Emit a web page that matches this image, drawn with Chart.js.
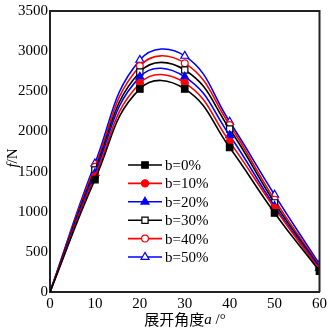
<!DOCTYPE html>
<html><head><meta charset="utf-8">
<script src="https://cdn.jsdelivr.net/npm/chart.js@4/dist/chart.umd.min.js"></script>
<style>html,body{margin:0;padding:0;background:#fff}#wrap{width:330px;height:329px}</style>
</head><body><div id="wrap"><canvas id="c" width="330" height="329"></canvas></div>
<script>
// Data
const angles = [0, 10, 20, 30, 40, 50, 60];
const seriesNames = ['b=0%', 'b=10%', 'b=20%', 'b=30%', 'b=40%', 'b=50%'];
const b0  = [0, 1400, 2530, 2530, 1800, 985, 260];
const b10 = [0, 1440, 2600, 2605, 1870, 1045, 280];
const b20 = [0, 1480, 2680, 2680, 1950, 1070, 300];
const b30 = [0, 1520, 2740, 2765, 2030, 1110, 310];
const b40 = [0, 1560, 2815, 2850, 2080, 1150, 325];
const b50 = [0, 1600, 2890, 2940, 2120, 1210, 345];
const xTickValues = [0, 10, 20, 30, 40, 50, 60];
const yTickValues = [0, 500, 1000, 1500, 2000, 2500, 3000, 3500];
const xTitle = '展开角度';
const yTitle = 'f';

const allSeries = [b0, b10, b20, b30, b40, b50];
const styles = [
  {color:'#000000', shape:'rect', fill:true, r:4.6},
  {color:'#ff0000', shape:'circle', fill:true, r:3.6},
  {color:'#0000ff', shape:'triangle', fill:true, r:4.6},
  {color:'#000000', shape:'rect', fill:false, r:4.4},
  {color:'#ff0000', shape:'circle', fill:false, r:3.4},
  {color:'#0000ff', shape:'triangle', fill:false, r:4.6}
];

const datasets = allSeries.map((vals, i) => {
  const s = styles[i];
  return {
    label: seriesNames[i],
    data: angles.map((a, j) => ({x: a, y: vals[j]})),
    borderColor: s.color,
    borderWidth: 1.6,
    backgroundColor: s.fill ? s.color : '#ffffff',
    pointBackgroundColor: s.fill ? s.color : '#ffffff',
    pointBorderColor: s.color,
    pointBorderWidth: 1.2,
    pointStyle: s.shape,
    pointRadius: angles.map(a => a === 0 ? 0 : s.r),
    tension: 0.45,
    fill: false
  };
});

function drawMarker(ctx, s, x, y) {
  ctx.save();
  ctx.lineWidth = 1.2;
  ctx.strokeStyle = s.color;
  ctx.fillStyle = s.fill ? s.color : '#ffffff';
  ctx.beginPath();
  const r = s.r;
  if (s.shape === 'rect') {
    const h = Math.SQRT1_2 * r;
    ctx.rect(x - h, y - h, 2 * h, 2 * h);
  } else if (s.shape === 'circle') {
    ctx.arc(x, y, r, 0, Math.PI * 2);
  } else {
    ctx.moveTo(x, y - r);
    ctx.lineTo(x + r * Math.sin(Math.PI * 2 / 3), y - r * Math.cos(Math.PI * 2 / 3));
    ctx.lineTo(x - r * Math.sin(Math.PI * 2 / 3), y - r * Math.cos(Math.PI * 2 / 3));
    ctx.closePath();
  }
  ctx.fill();
  ctx.stroke();
  ctx.restore();
}

const decor = {
  id: 'decor',
  afterDraw(chart) {
    const ctx = chart.ctx;
    const ca = chart.chartArea;
    ctx.save();
    // frame top & right
    ctx.strokeStyle = '#222';
    ctx.lineWidth = 2;
    ctx.beginPath();
    ctx.moveTo(ca.left, ca.top);
    ctx.lineTo(ca.right, ca.top);
    ctx.lineTo(ca.right, ca.bottom);
    ctx.stroke();
    // legend
    ctx.font = '15px "Liberation Serif"';
    ctx.textBaseline = 'middle';
    ctx.textAlign = 'left';
    for (let i = 0; i < seriesNames.length; i++) {
      const y = 165 + i * 18.4;
      const s = styles[i];
      ctx.strokeStyle = s.color;
      ctx.lineWidth = 1.6;
      ctx.beginPath();
      ctx.moveTo(128, y);
      ctx.lineTo(162, y);
      ctx.stroke();
      drawMarker(ctx, s, 145, y);
      ctx.fillStyle = '#000';
      ctx.fillText(seriesNames[i], 165, y + 1);
    }
    // x title
    ctx.fillStyle = '#000';
    ctx.textBaseline = 'middle';
    ctx.font = '15px "Noto Sans CJK SC"';
    const w1 = ctx.measureText(xTitle).width;
    ctx.font = 'italic 15px "Liberation Serif"';
    const w2 = ctx.measureText('a').width;
    ctx.font = '15px "Liberation Serif"';
    const w3 = ctx.measureText(' /°').width;
    let x0 = 185 - (w1 + w2 + w3) / 2;
    ctx.font = '15px "Noto Sans CJK SC"';
    ctx.fillText(xTitle, x0, 319);
    ctx.font = 'italic 15px "Liberation Serif"';
    ctx.fillText('a', x0 + w1, 320);
    ctx.font = '15px "Liberation Serif"';
    ctx.fillText(' /°', x0 + w1 + w2, 320);
    // y title
    ctx.translate(13, 158);
    ctx.rotate(-Math.PI / 2);
    ctx.font = 'italic 15px "Liberation Serif"';
    const f1 = ctx.measureText(yTitle).width;
    ctx.font = '15px "Liberation Serif"';
    const f2 = ctx.measureText('/N').width;
    let sx = -(f1 + f2) / 2;
    ctx.font = 'italic 15px "Liberation Serif"';
    ctx.fillText(yTitle, sx, 0);
    ctx.font = '15px "Liberation Serif"';
    ctx.fillText('/N', sx + f1, 0);
    ctx.restore();
  }
};

new Chart(document.getElementById('c'), {
  type: 'line',
  data: {datasets},
  options: {
    responsive: false,
    devicePixelRatio: 1,
    animation: false,
    layout: {padding: {top: 11, right: 9, left: 0, bottom: 0}},
    plugins: {legend: {display: false}, tooltip: {enabled: false}},
    scales: {
      x: {
        type: 'linear', min: 0, max: 60,
        afterBuildTicks(s) { s.ticks = xTickValues.map(v => ({value: v})); },
        afterFit(s) { s.height = 37; },
        grid: {display: false, drawTicks: false},
        border: {display: true, color: '#222', width: 2},
        ticks: {color: '#000', padding: 3, maxRotation: 0, callback: v => String(v), font: {family: 'Liberation Serif', size: 15}}
      },
      y: {
        type: 'linear', min: 0, max: 3500,
        afterBuildTicks(s) { s.ticks = yTickValues.map(v => ({value: v})); },
        afterFit(s) { s.width = 50; },
        grid: {display: false, drawTicks: false},
        border: {display: true, color: '#222', width: 2},
        ticks: {color: '#000', padding: 2, callback: v => String(v), font: {family: 'Liberation Serif', size: 15}}
      }
    }
  },
  plugins: [decor]
});
</script>
</body></html>
